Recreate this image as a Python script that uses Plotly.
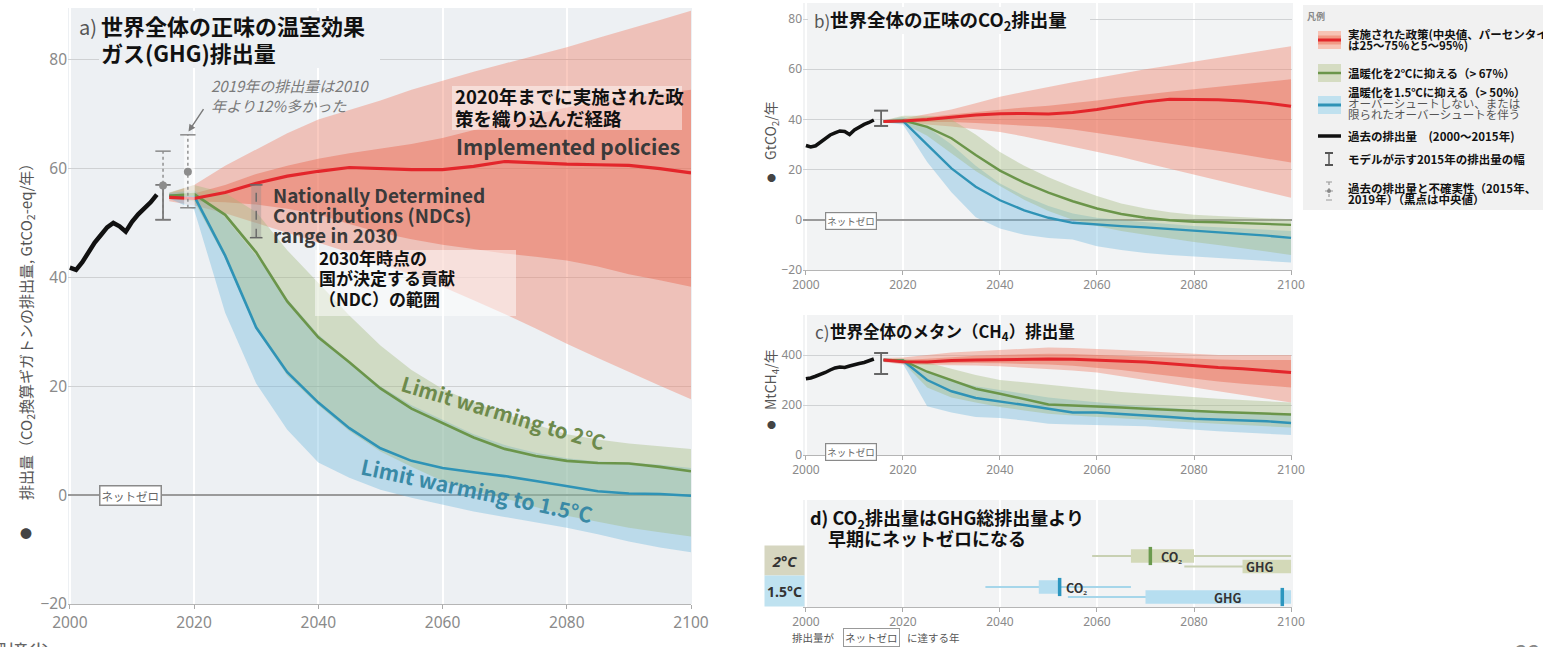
import plotly.graph_objects as go

W, H = 1543, 647
def PX(x): return x / W
def PY(y): return 1 - y / H

JP = "Noto Sans CJK JP"
NUM = "Noto Sans"

# ---------------- data ----------------
hist_years = list(range(2000, 2015))
proj_years = [2016, 2020, 2025, 2030, 2035, 2040, 2045, 2050, 2055, 2060,
              2065, 2070, 2075, 2080, 2085, 2090, 2095, 2100]

# a) net GHG (GtCO2-eq/yr)
a_hist = [41.8, 41.4, 42.8, 44.8, 46.4, 47.8, 49.2, 50.0, 49.4, 48.4, 50.2, 51.6, 52.6, 53.8, 55.2]
a_ip_med = [54.7, 54.5, 55.6, 57.3, 58.6, 59.5, 60.2, 60.0, 59.8, 59.8, 60.4, 61.3, 61.0, 60.8, 60.7, 60.6, 60.0, 59.2]
a_ip_p25 = [54.4, 54.0, 53.8, 53.4, 52.6, 51.6, 49.8, 48.2, 47.0, 46.0, 45.2, 44.4, 43.8, 43.1, 42.0, 40.6, 39.5, 38.3]
a_ip_p75 = [55.0, 55.4, 57.0, 59.0, 60.5, 61.8, 62.8, 63.6, 64.5, 65.6, 67.0, 68.5, 70.0, 71.2, 72.2, 73.0, 73.8, 74.5]
a_ip_p05 = [54.0, 53.2, 51.8, 50.0, 48.3, 46.5, 44.6, 42.6, 40.5, 38.3, 35.8, 33.3, 30.6, 27.8, 25.2, 22.6, 20.1, 17.6]
a_ip_p95 = [55.5, 57.0, 60.5, 63.5, 66.5, 69.0, 70.8, 72.5, 74.5, 76.2, 77.8, 79.3, 80.8, 82.3, 84.0, 85.6, 87.3, 89.0]
a_2c_med = [55.0, 55.3, 51.5, 44.6, 35.6, 29.0, 24.4, 19.6, 15.9, 13.2, 10.6, 8.5, 7.2, 6.3, 5.9, 5.8, 5.2, 4.4]
a_2c_lo = [54.6, 54.0, 43.5, 30.5, 22.0, 16.5, 11.8, 8.0, 5.2, 2.6, 0.8, -0.6, -2.2, -3.8, -4.9, -6.0, -6.8, -7.6]
a_2c_hi = [55.6, 57.0, 55.5, 52.0, 45.0, 39.0, 33.0, 27.5, 23.0, 19.5, 17.0, 15.0, 13.0, 11.2, 10.2, 9.5, 9.0, 8.5]
a_15_med = [55.0, 55.0, 44.0, 30.8, 22.6, 17.0, 12.3, 8.6, 6.3, 5.0, 4.2, 3.5, 2.6, 1.6, 0.7, 0.3, 0.2, -0.1]
a_15_lo = [54.5, 52.5, 33.5, 20.5, 12.0, 6.0, 3.2, 1.0, -0.5, -1.8, -3.0, -4.0, -5.0, -6.0, -7.2, -8.5, -9.6, -10.5]
a_15_hi = [55.5, 56.0, 51.0, 44.0, 36.0, 29.5, 24.5, 20.0, 16.5, 13.8, 11.2, 9.2, 7.8, 6.8, 6.2, 6.0, 5.6, 5.0]
a_unc_years = [2015, 2019]
a_unc_mid = [56.9, 59.4]
a_unc_lo = [50.6, 52.8]
a_unc_hi = [63.2, 66.2]
a_model_2015 = [50.6, 57.0]
ndc_2030 = [47.3, 57.0]

# b) net CO2 (GtCO2/yr)
b_hist = [29.6, 29.0, 29.5, 31.0, 32.5, 33.8, 34.6, 35.4, 35.2, 34.0, 35.8, 37.0, 38.0, 38.8, 39.8]
b_ip_med = [39.2, 39.4, 40.0, 41.0, 41.8, 42.3, 42.4, 42.2, 42.8, 44.0, 45.5, 47.0, 48.0, 48.0, 47.8, 47.3, 46.5, 45.3]
b_ip_p25 = [39.0, 38.8, 39.0, 39.0, 38.6, 38.0, 37.5, 37.0, 36.0, 34.6, 33.4, 32.0, 30.5, 29.0, 27.5, 26.0, 24.4, 22.8]
b_ip_p75 = [39.4, 40.0, 41.0, 42.0, 43.0, 44.0, 44.8, 45.5, 46.4, 47.5, 48.8, 50.0, 51.0, 52.0, 53.0, 54.0, 55.0, 56.0]
b_ip_p05 = [38.8, 38.5, 38.0, 37.2, 36.2, 35.0, 33.2, 31.2, 29.2, 27.2, 25.0, 22.6, 20.3, 18.0, 15.7, 13.4, 11.1, 8.8]
b_ip_p95 = [39.6, 40.4, 42.2, 44.0, 46.5, 49.0, 51.0, 53.0, 54.8, 56.5, 58.3, 60.0, 61.5, 63.0, 64.5, 66.0, 67.6, 69.2]
b_2c_med = [39.2, 39.6, 37.0, 32.5, 25.8, 19.6, 14.8, 10.8, 7.4, 4.5, 2.3, 0.8, -0.2, -0.8, -1.0, -1.3, -1.6, -2.0]
b_2c_lo = [38.8, 38.5, 33.5, 26.5, 19.5, 13.5, 8.0, 3.5, 0.0, -2.5, -4.5, -6.0, -7.5, -8.8, -10.0, -11.2, -12.6, -14.0]
b_2c_hi = [39.6, 41.5, 41.5, 40.0, 34.0, 27.0, 21.5, 17.0, 13.0, 9.5, 6.5, 4.5, 3.0, 2.0, 1.5, 1.0, 0.5, 0.2]
b_15_med = [39.2, 39.4, 30.0, 20.5, 13.2, 7.8, 3.8, 0.8, -1.2, -2.0, -2.5, -3.0, -3.6, -4.4, -5.0, -5.6, -6.3, -7.2]
b_15_lo = [38.8, 38.0, 23.0, 11.0, 1.0, -3.5, -6.0, -7.2, -7.8, -10.5, -12.0, -13.2, -14.0, -14.6, -15.2, -15.8, -16.4, -17.0]
b_15_hi = [39.6, 41.0, 37.0, 30.0, 21.5, 14.5, 9.5, 5.5, 2.5, 0.8, -0.2, -1.0, -1.8, -2.5, -3.0, -3.5, -4.0, -4.5]
b_model_2015 = [37.4, 43.5]

# c) CH4 (MtCH4/yr)
c_hist = [305, 308, 315, 322, 330, 340, 348, 352, 350, 356, 362, 366, 370, 376, 384]
c_ip_med = [380, 373, 372, 378, 380, 382, 382, 384, 383, 380, 377, 372, 365, 357, 350, 345, 338, 330]
c_ip_p25 = [376, 368, 366, 368, 368, 367, 365, 362, 357, 350, 340, 328, 316, 304, 294, 285, 277, 270]
c_ip_p75 = [384, 380, 385, 392, 397, 400, 403, 405, 404, 400, 398, 395, 390, 385, 382, 380, 380, 380]
c_ip_p05 = [372, 362, 360, 360, 358, 355, 350, 345, 338, 330, 316, 300, 285, 270, 255, 240, 225, 210]
c_ip_p95 = [388, 390, 400, 410, 415, 420, 425, 430, 428, 425, 420, 415, 410, 405, 400, 400, 400, 400]
c_2c_med = [380, 378, 333, 298, 265, 245, 225, 202, 198, 195, 190, 185, 180, 176, 172, 169, 166, 162]
c_2c_lo = [376, 370, 270, 230, 210, 192, 178, 165, 158, 152, 146, 140, 135, 130, 125, 120, 115, 110]
c_2c_hi = [384, 386, 370, 345, 320, 300, 290, 280, 270, 260, 252, 245, 238, 230, 225, 220, 215, 210]
c_15_med = [380, 378, 300, 255, 228, 215, 200, 185, 170, 170, 165, 160, 152, 145, 142, 140, 135, 128]
c_15_lo = [376, 365, 195, 170, 152, 148, 138, 125, 122, 120, 118, 115, 108, 100, 95, 90, 85, 80]
c_15_hi = [384, 384, 335, 300, 275, 260, 245, 230, 220, 210, 202, 195, 188, 180, 175, 170, 167, 165]
c_model_2015 = [324, 408]

# d) year of net zero
d_rows = ["2°C CO₂", "2°C GHG", "1.5°C CO₂", "1.5°C GHG"]
d_labels = ["CO₂", "GHG", "CO₂", "GHG"]
d_range_lo = [2059, 2078, 2037, 2054]
d_range_hi = [2100, 2100, 2067, 2100]
d_box_lo = [2067, 2090, 2048, 2070]
d_box_hi = [2080, 2100, 2052.5, 2100]
d_median = [2071, None, 2052.3, 2098.2]
d_label_x = [2075.3, 2093.4, 2055.8, 2087]

# ---------------- styles ----------------
RED_OUT = "rgba(241,128,104,0.42)"
RED_IN = "rgba(233,92,68,0.40)"
RED_LINE = "#e3262b"
GRN_FILL = "rgba(160,185,120,0.38)"
GRN_LINE = "#6b954a"
BLU_FILL = "rgba(105,182,222,0.38)"
BLU_LINE = "#2f93b6"
BG_A = "#edf0f3"
BG_B = "#f2f3f4"

fig = go.Figure()

def band(xs, lo, hi, color, xa, ya):
    fig.add_trace(go.Scatter(x=xs, y=lo, mode="lines", line=dict(width=0, color=color),
                             xaxis=xa, yaxis=ya, showlegend=False, hoverinfo="skip"))
    fig.add_trace(go.Scatter(x=xs, y=hi, mode="lines", line=dict(width=0, color=color),
                             fill="tonexty", fillcolor=color, xaxis=xa, yaxis=ya,
                             showlegend=False, hoverinfo="skip"))

def line(xs, ys, color, width, xa, ya, dash=None):
    fig.add_trace(go.Scatter(x=xs, y=ys, mode="lines", line=dict(color=color, width=width, dash=dash),
                             xaxis=xa, yaxis=ya, showlegend=False, hoverinfo="skip"))

def caps(xs, ys, color, size, width, xa, ya):
    fig.add_trace(go.Scatter(x=xs, y=ys, mode="markers",
                             marker=dict(symbol="line-ew", size=size, color=color,
                                         line=dict(width=width, color=color)),
                             xaxis=xa, yaxis=ya, showlegend=False, hoverinfo="skip"))

def ibar(x, lo, hi, color, xa, ya, size=11, width=2, dash=None, lw=1.6):
    line([x, x], [lo, hi], color, lw, xa, ya, dash)
    caps([x, x], [lo, hi], color, size, width, xa, ya)

def scen(xa, ya, ip5, ip95, ip25, ip75, ipm, b_lo, b_hi, bm, g_lo, g_hi, gm, lw=2.6):
    band(proj_years, ip5, ip95, RED_OUT, xa, ya)
    band(proj_years, ip25, ip75, RED_IN, xa, ya)
    band(proj_years, b_lo, b_hi, BLU_FILL, xa, ya)
    band(proj_years, g_lo, g_hi, GRN_FILL, xa, ya)
    line(proj_years, bm, BLU_LINE, lw, xa, ya)
    line(proj_years, gm, GRN_LINE, lw, xa, ya)
    line(proj_years, ipm, RED_LINE, lw + 0.6, xa, ya)

# ---- panel a
scen("x", "y", a_ip_p05, a_ip_p95, a_ip_p25, a_ip_p75, a_ip_med,
     a_15_lo, a_15_hi, a_15_med, a_2c_lo, a_2c_hi, a_2c_med, lw=2.6)
line(hist_years, a_hist, "#111", 4.5, "x", "y")
fig.add_trace(go.Scatter(x=[2029.2, 2030.8, 2030.8, 2029.2], y=[ndc_2030[0], ndc_2030[0], ndc_2030[1], ndc_2030[1]],
                         fill="toself", fillcolor="rgba(140,140,140,0.35)", mode="lines", line=dict(width=0),
                         xaxis="x", yaxis="y", showlegend=False, hoverinfo="skip"))
ibar(2030, ndc_2030[0], ndc_2030[1], "#666", "x", "y", size=9, width=1.5, dash="dash", lw=1.4)
fig.add_trace(go.Scatter(x=[2018.4, 2020.1, 2020.1, 2018.4],
                         y=[a_unc_lo[1], a_unc_lo[1], a_unc_hi[1], a_unc_hi[1]],
                         fill="toself", fillcolor="rgba(255,255,255,0.6)", mode="lines", line=dict(width=0),
                         xaxis="x", yaxis="y", showlegend=False, hoverinfo="skip"))
for i in range(2):
    ibar(a_unc_years[i], a_unc_lo[i], a_unc_hi[i], "#8a8a8a", "x", "y", size=11, width=1.5, dash="dot", lw=1.4)
ibar(a_unc_years[0], a_model_2015[0], a_model_2015[1], "#7a7a7a", "x", "y", size=11, width=1.8, lw=1.8)
fig.add_trace(go.Scatter(x=a_unc_years, y=a_unc_mid, mode="markers",
                         marker=dict(size=8, color="#8c8c8c"), xaxis="x", yaxis="y",
                         showlegend=False, hoverinfo="skip"))

# ---- panel b
scen("x2", "y2", b_ip_p05, b_ip_p95, b_ip_p25, b_ip_p75, b_ip_med,
     b_15_lo, b_15_hi, b_15_med, b_2c_lo, b_2c_hi, b_2c_med, lw=2.4)
line(hist_years, b_hist, "#111", 3.5, "x2", "y2")
ibar(2015.5, b_model_2015[0], b_model_2015[1], "#666", "x2", "y2", size=10, width=2, lw=1.8)

# ---- panel c
scen("x3", "y3", c_ip_p05, c_ip_p95, c_ip_p25, c_ip_p75, c_ip_med,
     c_15_lo, c_15_hi, c_15_med, c_2c_lo, c_2c_hi, c_2c_med, lw=2.4)
line(hist_years, c_hist, "#111", 3.5, "x3", "y3")
ibar(2015.5, c_model_2015[0], c_model_2015[1], "#666", "x3", "y3", size=10, width=2, lw=1.8)

# ---- panel d
row_y = [51, 40.5, 20, 10]
row_col = ["#d3d9b8", "#d3d9b8", "#b6def0", "#b6def0"]
row_line = ["#c8d0b2", "#c8d0b2", "#a6d6ea", "#a6d6ea"]
row_med = ["#6b9a4e", "#6b9a4e", "#2c96bf", "#2c96bf"]
for i in range(4):
    fig.add_trace(go.Bar(x=[d_range_hi[i] - d_range_lo[i]], base=[d_range_lo[i]], y=[row_y[i]],
                         width=2, orientation="h", marker=dict(color=row_line[i], line=dict(width=0)),
                         xaxis="x4", yaxis="y4", showlegend=False, hoverinfo="skip"))
for i in range(4):
    fig.add_trace(go.Bar(x=[d_box_hi[i] - d_box_lo[i]], base=[d_box_lo[i]], y=[row_y[i]],
                         width=13.5, orientation="h", marker=dict(color=row_col[i], line=dict(width=0)),
                         xaxis="x4", yaxis="y4", showlegend=False, hoverinfo="skip"))
for i in range(4):
    if d_median[i] is not None:
        fig.add_trace(go.Scatter(x=[d_median[i]], y=[row_y[i]], mode="markers",
                                 marker=dict(symbol="line-ns", size=13, color=row_med[i],
                                             line=dict(width=3.5, color=row_med[i])),
                                 xaxis="x4", yaxis="y4", showlegend=False, hoverinfo="skip"))

# ---------------- axes ----------------
tickfont_a = dict(family=NUM, size=15.5, color="#8a8a8a")
tickfont_s = dict(family=NUM, size=12, color="#8a8a8a")
xd = [PX(803), PX(1292)]
xr = [1999.4, 2100.2]
xt = [2000, 2020, 2040, 2060, 2080, 2100]

common_x = dict(tickvals=xt, showgrid=True, gridcolor="white", gridwidth=2, zeroline=False, automargin=False,
                ticks="outside", ticklen=4, tickcolor="#aaa", showline=True, linecolor="#b5b5b5", linewidth=1)

fig.update_layout(
    template="none",
    width=W, height=647, margin=dict(l=0, r=0, t=0, b=0, pad=0, autoexpand=False),
    paper_bgcolor="white", plot_bgcolor="rgba(0,0,0,0)",
    font=dict(family=JP, color="#222"),
    barmode="overlay", showlegend=False,
    xaxis=dict(domain=[PX(68), PX(691)], range=[1999.7, 2100], anchor="y", tickfont=tickfont_a, **common_x),
    yaxis=dict(domain=[PY(604), PY(8)], range=[-20, 89.5], anchor="x", tickvals=[-20, 0, 20, 40, 60, 80],
               tickfont=tickfont_a, showgrid=True, gridcolor="#cfd1d3", gridwidth=1, automargin=False,
               zeroline=True, zerolinecolor="#9a9a9a", zerolinewidth=2.2, ticks="", showline=False),
    xaxis2=dict(domain=xd, range=xr, anchor="y2", tickfont=tickfont_s, **common_x),
    yaxis2=dict(domain=[PY(270), PY(3)], range=[-20, 86.4], anchor="x2", tickvals=[-20, 0, 20, 40, 60, 80],
                tickfont=tickfont_s, showgrid=True, gridcolor="#d0d2d4", gridwidth=1, automargin=False,
                zeroline=True, zerolinecolor="#9a9a9a", zerolinewidth=2, ticks="", showline=False),
    xaxis3=dict(domain=xd, range=xr, anchor="y3", tickfont=tickfont_s, **common_x),
    yaxis3=dict(domain=[PY(455), PY(315)], range=[0, 560], anchor="x3", tickvals=[0, 200, 400],
                tickfont=tickfont_s, showgrid=True, gridcolor="#d0d2d4", gridwidth=1, zeroline=False,
                automargin=False, ticks="", showline=False),
    xaxis4=dict(domain=xd, range=xr, anchor="y4", tickfont=tickfont_s, **common_x),
    yaxis4=dict(domain=[PY(607), PY(500)], range=[0, 107], anchor="x4", showticklabels=False,
                showgrid=False, zeroline=False, automargin=False, ticks="", showline=False),
)

# ---------------- shapes ----------------
shapes = []
def rect(x0, y0, x1, y1, fill, layer="below", lw=0, lc="rgba(0,0,0,0)"):
    shapes.append(dict(type="rect", xref="paper", yref="paper", x0=PX(x0), x1=PX(x1), y0=PY(y1), y1=PY(y0),
                       fillcolor=fill, line=dict(width=lw, color=lc), layer=layer))
def seg(x0, y0, x1, y1, color, width, dash=None, layer="above"):
    shapes.append(dict(type="line", xref="paper", yref="paper", x0=PX(x0), x1=PX(x1), y0=PY(y0), y1=PY(y1),
                       line=dict(color=color, width=width, dash=dash), layer=layer))

rect(68, 8, 692, 604, BG_A)
rect(803, 3, 1293, 270, BG_B)
rect(803, 315, 1293, 455, BG_B)
rect(803, 500, 1293, 607, BG_B)
# title backing (hides the 80 gridline behind the titles)
rect(99, 11, 380, 68, BG_A, layer="above")
rect(808, 7, 1090, 34, BG_B, layer="above")
# panel a text boxes
rect(452, 86, 682, 130, "rgba(255,255,255,0.45)", layer="above")
rect(315, 250, 516, 316, "rgba(255,255,255,0.5)", layer="above")

# legend
rect(1303, 5, 1545, 210, "#f1f1f1")
rect(1318, 31, 1341, 49, "#f7c3b5", layer="above")
rect(1318, 35.5, 1341, 44.5, "#f19a86", layer="above")
seg(1318, 40, 1341, 40, RED_LINE, 3)
rect(1318, 64, 1341, 82, "#d5dcc2", layer="above")
seg(1318, 73, 1341, 73, GRN_LINE, 2.5)
rect(1318, 96, 1341, 114, "#c0e1ef", layer="above")
seg(1318, 105, 1341, 105, BLU_LINE, 3)
seg(1318, 136, 1341, 136, "#111", 3.5)
seg(1329, 153, 1329, 165, "#555", 1.5)
seg(1325, 153, 1333, 153, "#555", 2)
seg(1325, 165, 1333, 165, "#555", 2)
seg(1329, 182, 1329, 200, "#999", 1.2, dash="dot")
seg(1326, 182, 1332, 182, "#999", 1)
seg(1326, 200, 1332, 200, "#999", 1)
seg(1325, 191, 1333, 191, "#999", 1)
shapes.append(dict(type="circle", xref="paper", yref="paper", x0=PX(1327), x1=PX(1331), y0=PY(193), y1=PY(189),
                   fillcolor="#888", line=dict(width=0)))
fig.update_layout(shapes=shapes)

# ---------------- annotations ----------------
def txt(x, y, text, size, color="#111", xanchor="left", yanchor="middle", family=JP, **kw):
    fig.add_annotation(x=PX(x), y=PY(y), xref="paper", yref="paper", text=text, showarrow=False,
                       xanchor=xanchor, yanchor=yanchor, align="left",
                       font=dict(family=family, size=size, color=color), **kw)

# panel a
txt(77, 26, "a)", 20, "#555")
txt(99, 25, "<b>世界全体の正味の温室効果</b>", 22, "#111")
txt(99, 52, "<b>ガス(GHG)排出量</b>", 22, "#111")
txt(209, 96, "<i>2019年の排出量は2010<br>年より12%多かった</i>", 15, "#7a7a7a")
fig.add_annotation(x=2019.1, y=a_unc_hi[1] + 0.6, xref="x", yref="y", text="", showarrow=True,
                   ax=16, ay=-24, arrowhead=2, arrowsize=1, arrowwidth=1.4, arrowcolor="#7a7a7a")
for k, s in enumerate(["Nationally Determined", "Contributions (NDCs)", "range in 2030"]):
    txt(271, 194 + 20 * k, "<b>" + s + "</b>", 19, "#3a3a3a")
for k, s in enumerate(["2030年時点の", "国が決定する貢献", "（NDC）の範囲"]):
    txt(317, 257 + 20.5 * k, "<b>" + s + "</b>", 17, "#111")
txt(453, 96, "<b>2020年までに実施された政</b>", 18.5, "#111")
txt(453, 118, "<b>策を織り込んだ経路</b>", 18.5, "#111")
txt(454, 146, "<b>Implemented policies</b>", 21, "#3a3a3a")
txt(503, 412, "<b>Limit warming to 2°C</b>", 20.5, "#6d8a4c", xanchor="center", textangle=16.5)
txt(477, 490, "<b>Limit warming to 1.5°C</b>", 21, "#3a8aa6", xanchor="center", textangle=12)
txt(130, 496, "ネットゼロ", 11.5, "#666", xanchor="center", bgcolor="white", bordercolor="#8a8a8a",
    borderwidth=1.5, borderpad=1)
txt(26, 328, "排出量（CO<sub>2</sub>換算ギガトンの排出量, GtCO<sub>2</sub>-eq/年）", 15, "#555",
    xanchor="center", textangle=-90)
txt(26, 533, "●", 12, "#444", xanchor="center")

# panel b
txt(812, 21, "b)", 17, "#555")
txt(828, 21, "<b>世界全体の正味のCO<sub>2</sub>排出量</b>", 18.5, "#111")
txt(851, 221, "ネットゼロ", 9.5, "#666", xanchor="center", bgcolor="white", bordercolor="#8a8a8a",
    borderwidth=1.2, borderpad=1)
txt(771, 131, "GtCO<sub>2</sub>/年", 14, "#555", xanchor="center", textangle=-90)
txt(771, 177, "●", 9, "#444", xanchor="center")

# panel c
txt(813, 331, "c)", 17, "#555")
txt(828, 331, "<b>世界全体のメタン（CH<sub>4</sub>）排出量</b>", 16.5, "#111")
txt(851, 452, "ネットゼロ", 9.5, "#666", xanchor="center", bgcolor="white", bordercolor="#8a8a8a",
    borderwidth=1.2, borderpad=1)
txt(771, 380, "MtCH<sub>4</sub>/年", 14, "#555", xanchor="center", textangle=-90)
txt(771, 425, "●", 9, "#444", xanchor="center")

# panel d
txt(808, 518, "<b>d) CO<sub>2</sub>排出量はGHG総排出量より</b>", 18, "#111")
txt(826, 538, "<b>早期にネットゼロになる</b>", 18, "#111")
fig.add_annotation(x=PX(784.5), y=PY(560), xref="paper", yref="paper", text="<b><i>2°C</i></b>",
                   showarrow=False, xanchor="center", yanchor="middle",
                   width=37, height=27, bgcolor="#d6d6c0", font=dict(family=NUM, size=15, color="#333"))
fig.add_annotation(x=PX(784.5), y=PY(591), xref="paper", yref="paper", text="<b>1.5°C</b>",
                   showarrow=False, xanchor="center", yanchor="middle",
                   width=37, height=28, bgcolor="#bfe2f0", font=dict(family=NUM, size=14, color="#333"))
for i in range(4):
    fig.add_annotation(x=d_label_x[i], y=row_y[i], xref="x4", yref="y4", showarrow=False,
                       text="<b>" + d_labels[i] + "</b>", xanchor="center", yanchor="middle",
                       font=dict(family=JP, size=12.5, color="#333"))
txt(790, 637, "排出量が", 10.5, "#555")
txt(871, 637, "ネットゼロ", 10.5, "#555", xanchor="center", bgcolor="white", bordercolor="#999",
    borderwidth=1, borderpad=1)
txt(905, 637, "に達する年", 10.5, "#555")

# legend texts
txt(1305, 16, "<b>凡例</b>", 9, "#888")
txt(1346, 34, "<b>実施された政策(中央値、パーセンタイル</b>", 11.5, "#111")
txt(1346, 45, "<b>は25～75%と5～95%)</b>", 11.5, "#111")
txt(1346, 73, "<b>温暖化を2℃に抑える（> 67%）</b>", 11.5, "#111")
txt(1346, 92, "<b>温暖化を1.5℃に抑える（> 50%）</b>", 11.5, "#111")
txt(1346, 103, "オーバーシュートしない、または", 11.5, "#555")
txt(1346, 114, "限られたオーバーシュートを伴う", 11.5, "#555")
txt(1346, 136, "<b>過去の排出量　(2000～2015年)</b>", 11.5, "#111")
txt(1346, 159, "<b>モデルが示す2015年の排出量の幅</b>", 11.5, "#111")
txt(1346, 188, "<b>過去の排出量と不確実性（2015年、</b>", 11.5, "#111")
txt(1346, 199, "<b>2019年）（黒点は中央値）</b>", 11.5, "#111")

# page furniture (cut off at the bottom edge)
txt(-16, 634, "環境省", 21, "#666", yanchor="top")
txt(1513, 633, "22", 23, "#888", yanchor="top")

fig.write_html("out.html")
